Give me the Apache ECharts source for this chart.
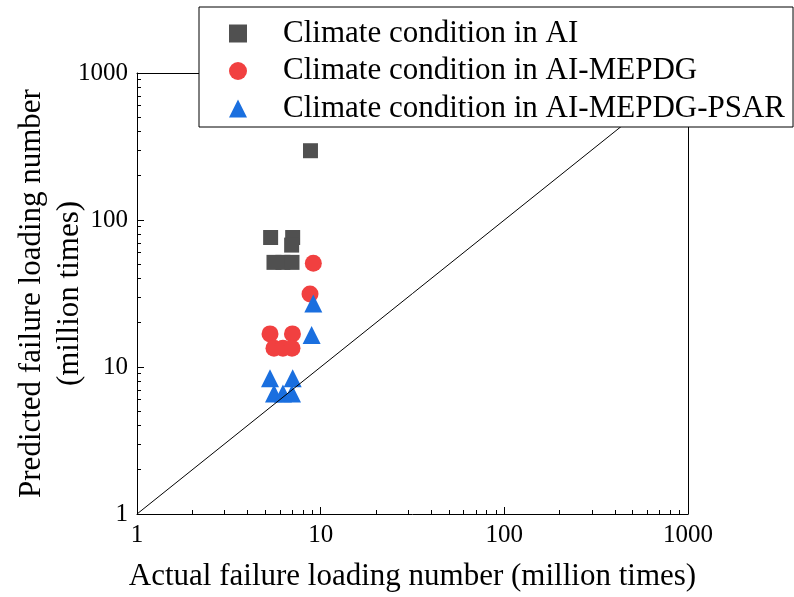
<!DOCTYPE html>
<html>
<head>
<meta charset="utf-8">
<script src="https://cdn.jsdelivr.net/npm/echarts@6/dist/echarts.min.js"></script>
<style>html,body{margin:0;padding:0;background:#fff}#c{width:794px;height:597px}</style>
</head>
<body>
<div id="c"></div>
<script>
// Data (actual, predicted) in million times
const seriesNames = ['Climate condition in AI', 'Climate condition in AI-MEPDG', 'Climate condition in AI-MEPDG-PSAR'];
const aiData = [[5.34, 76], [7.04, 76], [6.95, 67.5], [5.57, 51.5], [6.23, 51.5], [6.98, 51.5], [8.8, 296]];
const mepdgData = [[9.12, 50.8], [8.75, 31.4], [5.3, 16.8], [7.02, 16.8], [5.57, 13.4], [6.23, 13.4], [6.98, 13.4]];
const psarData = [[9.12, 27], [8.93, 16.5], [5.3, 8.4], [7.04, 8.4], [5.57, 6.6], [6.23, 6.6], [6.98, 6.6]];
const equalityLine = [[1, 1], [1000, 1000]];
const majorTicks = [1, 10, 100, 1000];
const minorTicks = [2,3,4,5,6,7,8,9,20,30,40,50,60,70,80,90,200,300,400,500,600,700,800,900];

const FONT = '"Liberation Serif", "Times New Roman", serif';

function minorAxis(pos) {
  return {
    type: 'log', min: 1, max: 1000, logBase: 10, position: pos,
    axisLine: {show: false, onZero: false},
    axisLabel: {show: true, customValues: minorTicks, formatter: () => ''},
    splitLine: {show: false},
    axisTick: {show: true, inside: true, length: 4, customValues: minorTicks, lineStyle: {color: '#000', width: 1}},
    z: 3
  };
}
function frameAxis(pos) {
  return {
    type: 'log', min: 1, max: 1000, logBase: 10, position: pos,
    axisLine: {show: true, onZero: false, lineStyle: {color: '#000', width: 1}},
    axisLabel: {show: false},
    axisTick: {show: false},
    splitLine: {show: false}
  };
}

const chart = echarts.init(document.getElementById('c'), null, {renderer: 'canvas'});
chart.setOption({
  animation: false,
  backgroundColor: '#fff',
  textStyle: {fontFamily: FONT, color: '#000'},
  grid: {left: 137, top: 73, right: 106, bottom: 83, containLabel: false, outerBoundsMode: 'none'},
  legend: {
    orient: 'vertical', left: 199, top: 7,
    padding: [11, 8, 3, 30],
    itemGap: 6.5, itemWidth: 18, itemHeight: 18,
    backgroundColor: '#fff', borderColor: '#000', borderWidth: 1,
    textStyle: {fontFamily: FONT, fontSize: 31, color: '#000', padding: [0, 0, 0, 31]},
    data: [
      {name: seriesNames[0], icon: 'rect'},
      {name: seriesNames[1], icon: 'circle'},
      {name: seriesNames[2], icon: 'triangle'}
    ],
    z: 10
  },
  xAxis: [{
    type: 'log', min: 1, max: 1000, logBase: 10,
    axisLine: {show: true, onZero: false, lineStyle: {color: '#000', width: 1}},
    axisTick: {show: true, inside: true, length: 7, customValues: majorTicks, lineStyle: {color: '#000', width: 1}},
    axisLabel: {fontFamily: FONT, fontSize: 25, color: '#000', margin: 9, customValues: majorTicks, formatter: v => String(v)},
    splitLine: {show: false},
    name: 'Actual failure loading number (million times)',
    nameLocation: 'middle', nameGap: 47, nameMoveOverlap: false,
    nameTextStyle: {fontFamily: FONT, fontSize: 31, color: '#000'},
    z: 3
  }, minorAxis('bottom'), frameAxis('top')],
  yAxis: [{
    type: 'log', min: 1, max: 1000, logBase: 10,
    axisLine: {show: true, onZero: false, lineStyle: {color: '#000', width: 1}},
    axisTick: {show: true, inside: true, length: 7, customValues: majorTicks, lineStyle: {color: '#000', width: 1}},
    axisLabel: {fontFamily: FONT, fontSize: 25, color: '#000', margin: 9, customValues: majorTicks, formatter: v => String(v)},
    splitLine: {show: false},
    name: 'Predicted failure loading number\n(million times)',
    nameLocation: 'middle', nameGap: 48, nameMoveOverlap: false,
    nameTextStyle: {fontFamily: FONT, fontSize: 31, color: '#000', lineHeight: 38},
    z: 3
  }, minorAxis('left'), frameAxis('right')],
  series: [
    {name: seriesNames[0], type: 'scatter', symbol: 'rect', symbolSize: 15, itemStyle: {color: '#505050', opacity: 1}, data: aiData, z: 2},
    {name: seriesNames[1], type: 'scatter', symbol: 'circle', symbolSize: 17, itemStyle: {color: '#F14040', opacity: 1}, data: mepdgData, z: 3},
    {name: seriesNames[2], type: 'scatter', symbol: 'triangle', symbolSize: 18, itemStyle: {color: '#1A6FDF', opacity: 1}, data: psarData, z: 4},
    {name: 'y=x', type: 'line', xAxisIndex: 1, yAxisIndex: 1, data: equalityLine, showSymbol: false, symbol: 'none', silent: true,
     lineStyle: {color: '#000', width: 1}, z: 5}
  ]
});
</script>
</body>
</html>
